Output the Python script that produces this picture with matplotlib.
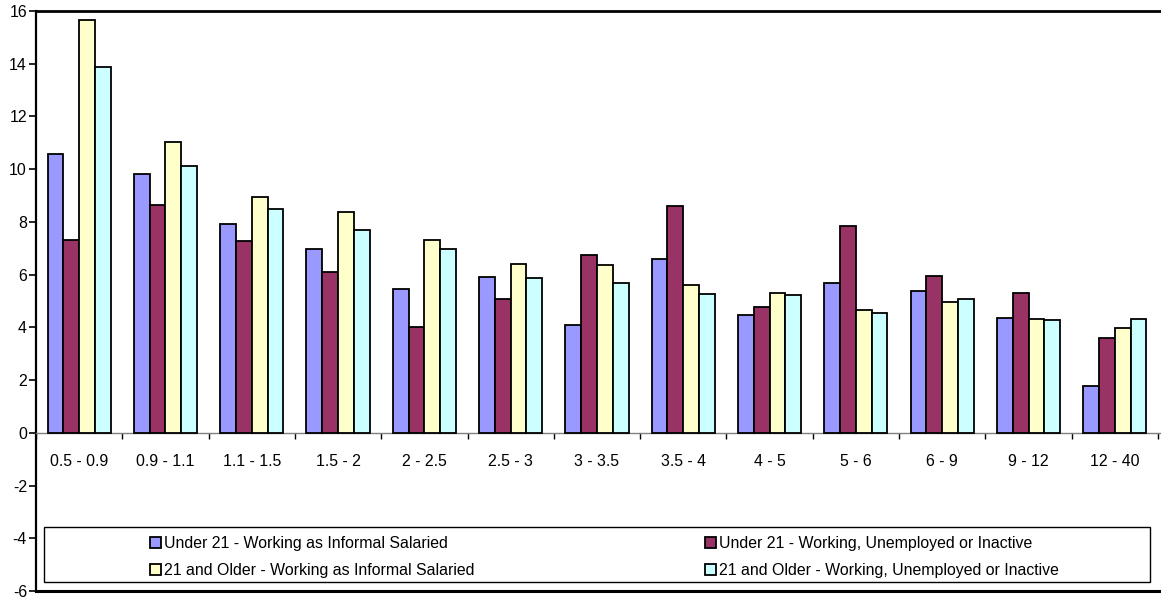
import matplotlib.pyplot as plt
import numpy as np
from matplotlib.patches import Rectangle, Patch

plt.rcParams['font.family'] = ['Liberation Sans', 'DejaVu Sans']
plt.rcParams['axes.unicode_minus'] = False

categories = ['0.5 - 0.9', '0.9 - 1.1', '1.1 - 1.5', '1.5 - 2', '2 - 2.5', '2.5 - 3',
              '3 - 3.5', '3.5 - 4', '4 - 5', '5 - 6', '6 - 9', '9 - 12', '12 - 40']

under21_informal = [10.58, 9.83, 7.92, 6.98, 5.46, 5.91, 4.09, 6.61, 4.45, 5.69, 5.38, 4.37, 1.78]
under21_other = [7.33, 8.63, 7.28, 6.09, 4.02, 5.09, 6.76, 8.61, 4.79, 7.84, 5.93, 5.31, 3.60]
older_informal = [15.67, 11.02, 8.96, 8.39, 7.32, 6.42, 6.36, 5.59, 5.30, 4.66, 4.98, 4.31, 3.99]
older_other = [13.86, 10.12, 8.50, 7.68, 6.98, 5.88, 5.69, 5.28, 5.21, 4.56, 5.07, 4.28, 4.30]

series = [
    ('Under 21 - Working as Informal Salaried', under21_informal, '#9999FF'),
    ('Under 21 - Working, Unemployed or Inactive', under21_other, '#993366'),
    ('21 and Older - Working as Informal Salaried', older_informal, '#FFFFCC'),
    ('21 and Older - Working, Unemployed or Inactive', older_other, '#CCFFFF'),
]

FS = 11.4

fig = plt.figure(figsize=(11.61, 6.02), dpi=100)
ax = fig.add_axes([0.031, 0.0183, 0.969, 0.9634])

x = np.arange(len(categories))
width = 0.183
handles = {}
for i, (label, vals, color) in enumerate(series):
    offset = (i - 1.5) * width
    ax.bar(x + offset, vals, width, color=color, edgecolor='black', linewidth=1.3, zorder=3)
    handles[label] = Patch(facecolor=color, edgecolor='black', linewidth=1.3)

ax.set_xlim(-0.5, 12.535)
ax.set_ylim(-6, 16)
ax.set_yticks(np.arange(-6, 17, 2))

# spines: category axis sits on the zero line
ax.spines['right'].set_visible(False)
ax.spines['bottom'].set_position(('data', 0))
ax.spines['bottom'].set_color('#808080')
ax.spines['bottom'].set_linewidth(1.0)
ax.spines['top'].set_linewidth(2)
ax.spines['left'].set_linewidth(1.6)
ax.axhline(-6, color='black', linewidth=2.2, clip_on=False, zorder=5)

ax.set_xticks(x)
ax.set_xticklabels(categories, fontsize=FS)
ax.set_xticks(np.arange(len(categories) + 1) - 0.5, minor=True)
ax.tick_params(axis='x', which='major', length=0, pad=15)
ax.tick_params(axis='x', which='minor', length=4, width=1, color='black', direction='out')
ax.tick_params(axis='y', length=5, width=1.2, pad=1.5, labelsize=FS)

# legend box inside the negative area
ax.add_patch(Rectangle((0.0071, 0.0155), 0.983, 0.095, transform=ax.transAxes,
                       facecolor='white', edgecolor='black', linewidth=1.0, zorder=6))
order = [series[0][0], series[2][0], series[1][0], series[3][0]]
ax.legend([handles[k] for k in order], order, ncol=2, loc='center',
          bbox_to_anchor=(0.5053, 0.058), frameon=False, fontsize=FS,
          handlelength=0.68, handleheight=0.68, handletextpad=0.17,
          columnspacing=14.6, labelspacing=0.75).set_zorder(7)

fig.savefig('out.png', dpi=100)
